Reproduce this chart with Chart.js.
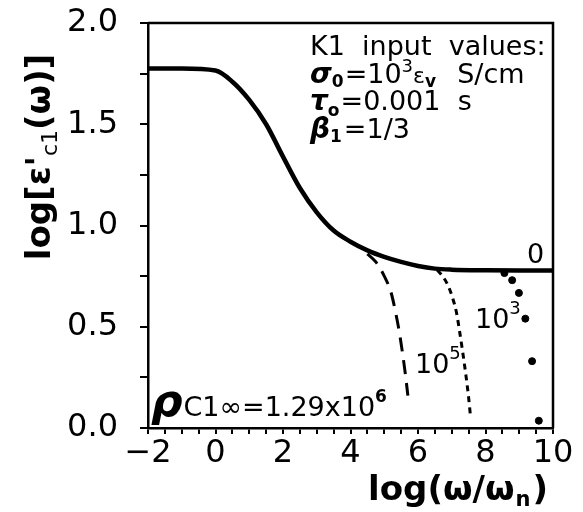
<!DOCTYPE html>
<html lang="en">
<head>
    <meta charset="UTF-8">
    <title>log eps' c1 vs log omega</title>
    <script src="https://cdn.jsdelivr.net/npm/chart.js"></script>
    <style>
        html, body { margin: 0; padding: 0; background: #fff; }
    </style>
</head>
<body>
    <canvas id="epsChart" width="583" height="512"></canvas>

    <script>
        // values
        let xMain = [-2, -1, 0, 0.5, 1, 1.5, 2, 2.5, 3, 3.5, 4, 4.5, 5, 5.5, 6, 6.5, 7, 8, 9, 10];
        let yMain = [1.775, 1.775, 1.765, 1.71, 1.62, 1.5, 1.34, 1.185, 1.065, 0.975, 0.92, 0.877, 0.845, 0.82, 0.8, 0.787, 0.782, 0.779, 0.778, 0.778];

        // rho = 1e6 (long dashes)
        let x1e6 = [4.5, 4.75, 5.0, 5.2, 5.35, 5.45, 5.55, 5.63, 5.7];
        let y1e6 = [0.86, 0.82, 0.75, 0.67, 0.56, 0.47, 0.36, 0.26, 0.16];

        // rho = 1e5 (short dashes)
        let x1e5 = [6.57, 6.75, 6.9, 7.03, 7.14, 7.23, 7.32, 7.42, 7.5, 7.56];
        let y1e5 = [0.78, 0.745, 0.7, 0.64, 0.57, 0.48, 0.38, 0.26, 0.15, 0.05];

        // rho = 1e3 (dots)
        let x1e3 = [8.56, 8.79, 8.99, 9.18, 9.38, 9.58];
        let y1e3 = [0.765, 0.73, 0.667, 0.54, 0.33, 0.036];

        let xTickMin = -2, xTickMax = 10;
        let yTickMin = 0, yTickMax = 2;

        function pts(xs, ys) {
            return xs.map((x, i) => ({ x: x, y: ys[i] }));
        }

        const FONT = "'DejaVu Sans', sans-serif";

        // draws a run of text pieces, each with its own font and vertical shift
        function drawRich(ctx, x, y, parts) {
            let cx = x;
            parts.forEach(p => {
                ctx.font = p.f;
                ctx.fillText(p.t, cx, y + (p.dy || 0));
                cx += ctx.measureText(p.t).width + (p.gap || 0);
            });
            return cx - x;
        }

        function richWidth(ctx, parts) {
            let w = 0;
            parts.forEach(p => {
                ctx.font = p.f;
                w += ctx.measureText(p.t).width + (p.gap || 0);
            });
            return w;
        }

        const normal = '27px ' + FONT;
        const greek = 'bold italic 28px ' + FONT;
        const sub = 'bold 17px ' + FONT;
        const sup = '18px ' + FONT;
        const title = 'bold 34px ' + FONT;

        const annotations = {
            id: 'annotations',
            afterDraw(chart) {
                const ctx = chart.ctx;
                const a = chart.chartArea;
                ctx.save();
                ctx.fillStyle = '#000';
                ctx.strokeStyle = '#000';

                // top and right frame
                ctx.lineWidth = 2.5;
                ctx.beginPath();
                ctx.moveTo(a.left, a.top);
                ctx.lineTo(a.right, a.top);
                ctx.lineTo(a.right, a.bottom);
                ctx.stroke();

                ctx.textAlign = 'left';
                ctx.textBaseline = 'alphabetic';

                // input values box
                drawRich(ctx, 310, 55, [{ t: 'K1  input  values:', f: normal }]);
                drawRich(ctx, 310, 83, [
                    { t: 'σ', f: greek },
                    { t: '0', f: sub, dy: 4, gap: 1 },
                    { t: '=10', f: normal },
                    { t: '3', f: sup, dy: -11 },
                    { t: 'ε', f: '22px ' + FONT },
                    { t: 'v', f: sub, dy: 4, gap: 4 },
                    { t: '  S/cm', f: normal }
                ]);
                drawRich(ctx, 310, 110, [
                    { t: 'τ', f: greek },
                    { t: 'o', f: sub, dy: 6, gap: 1 },
                    { t: '=0.001  s', f: normal }
                ]);
                drawRich(ctx, 310, 138, [
                    { t: 'β', f: greek },
                    { t: '1', f: sub, dy: 4, gap: 2 },
                    { t: '=1/3', f: normal }
                ]);

                // curve labels
                drawRich(ctx, 527, 263, [{ t: '0', f: normal }]);
                drawRich(ctx, 475, 328, [{ t: '10', f: normal }, { t: '3', f: sup, dy: -14 }]);
                drawRich(ctx, 415, 373, [{ t: '10', f: normal }, { t: '5', f: sup, dy: -14 }]);
                drawRich(ctx, 151, 416, [
                    { t: 'ρ', f: 'bold italic 44px ' + FONT, gap: 1 },
                    { t: 'C1∞=1.29x10', f: normal },
                    { t: '6', f: 'bold 17px ' + FONT, dy: -14 }
                ]);

                // y axis title, rotated
                const yTitle = [
                    { t: 'log[ε\'', f: title },
                    { t: 'c1', f: '22px ' + FONT, dy: 7 },
                    { t: '(ω)]', f: title }
                ];
                const yw = richWidth(ctx, yTitle);
                ctx.save();
                ctx.translate(50, 157);
                ctx.rotate(-Math.PI / 2);
                drawRich(ctx, -yw / 2, 0, yTitle);
                ctx.restore();

                // x axis title
                const xTitle = [
                    { t: 'log(ω/ω', f: title, gap: 1 },
                    { t: 'n', f: 'bold 21px ' + FONT, dy: 6, gap: 2 },
                    { t: ')', f: title }
                ];
                const xw = richWidth(ctx, xTitle);
                drawRich(ctx, 548 - xw, 500, xTitle);

                ctx.restore();
            }
        };

        let ctx = document.getElementById('epsChart').getContext('2d');

        let epsChart = new Chart(ctx, {
            type: 'scatter',
            data: {
                datasets: [
                    {
                        label: '0',
                        data: pts(xMain, yMain),
                        showLine: true,
                        borderColor: '#000',
                        borderWidth: 4.5,
                        pointRadius: 0,
                        cubicInterpolationMode: 'monotone'
                    },
                    {
                        label: '1e6',
                        data: pts(x1e6, y1e6),
                        showLine: true,
                        borderColor: '#000',
                        borderWidth: 3,
                        borderDash: [14, 9],
                        pointRadius: 0,
                        cubicInterpolationMode: 'monotone'
                    },
                    {
                        label: '1e5',
                        data: pts(x1e5, y1e5),
                        showLine: true,
                        borderColor: '#000',
                        borderWidth: 3,
                        borderDash: [6, 5],
                        pointRadius: 0,
                        cubicInterpolationMode: 'monotone'
                    },
                    {
                        label: '1e3',
                        data: pts(x1e3, y1e3),
                        showLine: false,
                        backgroundColor: '#000',
                        borderColor: '#000',
                        pointRadius: 3.5,
                        pointStyle: 'circle'
                    }
                ]
            },
            options: {
                responsive: false,
                animation: false,
                layout: { padding: { top: 23, right: 30, left: 0, bottom: 0 } },
                plugins: {
                    legend: { display: false },
                    tooltip: { enabled: false }
                },
                scales: {
                    x: {
                        type: 'linear',
                        min: xTickMin,
                        max: xTickMax,
                        afterFit: s => {
                            s.height = 84;
                            s.paddingLeft = 0;
                            s.paddingRight = 0;
                        },
                        border: { display: true, color: '#000', width: 2.5 },
                        grid: { drawOnChartArea: false, drawTicks: true, tickLength: 6, color: '#000', lineWidth: 2 },
                        ticks: {
                            stepSize: 0.5,
                            autoSkip: false,
                            maxRotation: 0,
                            padding: 0,
                            color: '#000',
                            font: { family: 'DejaVu Sans', size: 32 },
                            callback: v => {
                                if (Math.abs(v % 2) > 1e-9) return '';
                                return v < 0 ? '\u2212' + Math.abs(v) : String(v);
                            }
                        }
                    },
                    y: {
                        type: 'linear',
                        min: yTickMin,
                        max: yTickMax,
                        afterFit: s => {
                            s.width = 148;
                            s.paddingTop = 0;
                            s.paddingBottom = 0;
                        },
                        border: { display: true, color: '#000', width: 2.5 },
                        grid: { drawOnChartArea: false, drawTicks: true, tickLength: 8, color: '#000', lineWidth: 2 },
                        ticks: {
                            stepSize: 0.25,
                            autoSkip: false,
                            padding: 22,
                            color: '#000',
                            font: { family: 'DejaVu Sans', size: 32 },
                            callback: v => (Math.abs(v % 0.5) > 1e-9 ? '' : v.toFixed(1))
                        }
                    }
                }
            },
            plugins: [annotations]
        });
    </script>
</body>
</html>
